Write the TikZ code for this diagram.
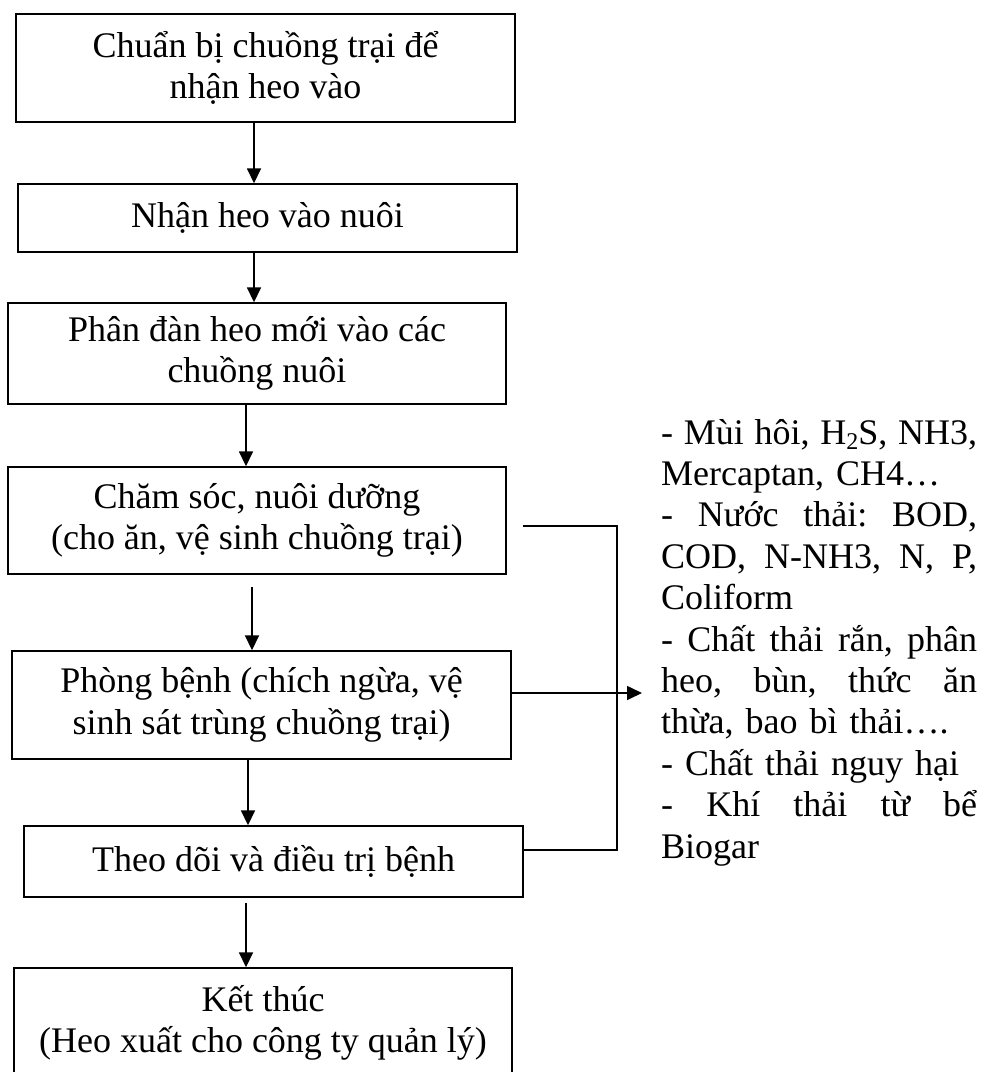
\documentclass[tikz,border=0pt]{standalone}
\usepackage{fontspec}
\setmainfont{Liberation Serif}
\usetikzlibrary{arrows.meta,calc}
\newcommand{\jline}[1]{\leavevmode\hbox to 316pt{\frenchspacing\spaceskip=0.25em plus 1fil minus 0.12em\relax #1}}
\newcommand{\subtwo}{\raisebox{-5pt}{\fontsize{24}{24}\selectfont 2}}
\begin{document}
\begin{tikzpicture}[x=1pt,y=-1pt,
  box/.style={draw,line width=1.4pt,inner sep=0pt,align=center,
    font=\fontsize{36}{41.4}\selectfont},
  arr/.style={line width=1.6pt,-{Triangle[length=15pt,width=14pt]}},
  link/.style={line width=1.6pt}]
\useasboundingbox (0,0) rectangle (981,1072);
% boxes
\node[box,minimum width=499pt,minimum height=108pt] (b1) at (265.5,68) {Chuẩn bị chuồng trại để\\nhận heo vào};
\node[box,minimum width=499pt,minimum height=68pt] (b2) at (267.5,218) {Nhận heo vào nuôi};
\node[box,minimum width=498pt,minimum height=101pt] (b3) at (257,353.5) {Phân đàn heo mới vào các\\chuồng nuôi};
\node[box,minimum width=498pt,minimum height=107pt] (b4) at (257,520.5) {Chăm sóc, nuôi dưỡng\\(cho ăn, vệ sinh chuồng trại)};
\node[box,minimum width=499pt,minimum height=108pt] (b5) at (261.5,705) {Phòng bệnh (chích ngừa, vệ\\sinh sát trùng chuồng trại)};
\node[box,minimum width=499pt,minimum height=71pt] (b6) at (273.5,861.5) {Theo dõi và điều trị bệnh};
\node[box,minimum width=498pt,minimum height=110pt] (b7) at (263,1023) {Kết thúc\\(Heo xuất cho công ty quản lý)};
% right text
\node[anchor=north west,inner sep=0pt,text width=316pt,align=left,
  font=\fontsize{36}{41.4}\selectfont] (txt) at (661,415) {\noindent\strut\jline{- Mùi hôi, H\subtwo S, NH3,}\\
Mercaptan, CH4…\\
\jline{- Nước thải: BOD,}\\
\jline{COD, N-NH3, N, P,}\\
Coliform\\
\jline{- Chất thải rắn, phân}\\
\jline{heo, bùn, thức ăn}\\
thừa, bao bì thải….\\
- Chất thải nguy hại\\
\jline{- Khí thải từ bể}\\
Biogar};
% vertical arrows
\coordinate (x1) at (254,0);
\coordinate (x3) at (246,0);
\coordinate (x5) at (248,0);
\coordinate (s4) at (252,587);
\coordinate (s6) at (246,903);
\draw[arr] (b1.south -| x1) -- (b2.north -| x1);
\draw[arr] (b2.south -| x1) -- (b3.north -| x1);
\draw[arr] (b3.south -| x3) -- (b4.north -| x3);
\draw[arr] (s4) -- (s4 |- b5.north);
\draw[arr] (b5.south -| x5) -- (b6.north -| x5);
\draw[arr] (s6) -- (s6 |- b7.north);
% right connectors
\coordinate (c1) at (523,526);
\coordinate (r) at (617,850);
\draw[link] (c1) -| (r) -- (r -| b6.east);
\coordinate (t) at (642,693);
\draw[arr] (t -| b5.east) -- (t);
\end{tikzpicture}
\end{document}
